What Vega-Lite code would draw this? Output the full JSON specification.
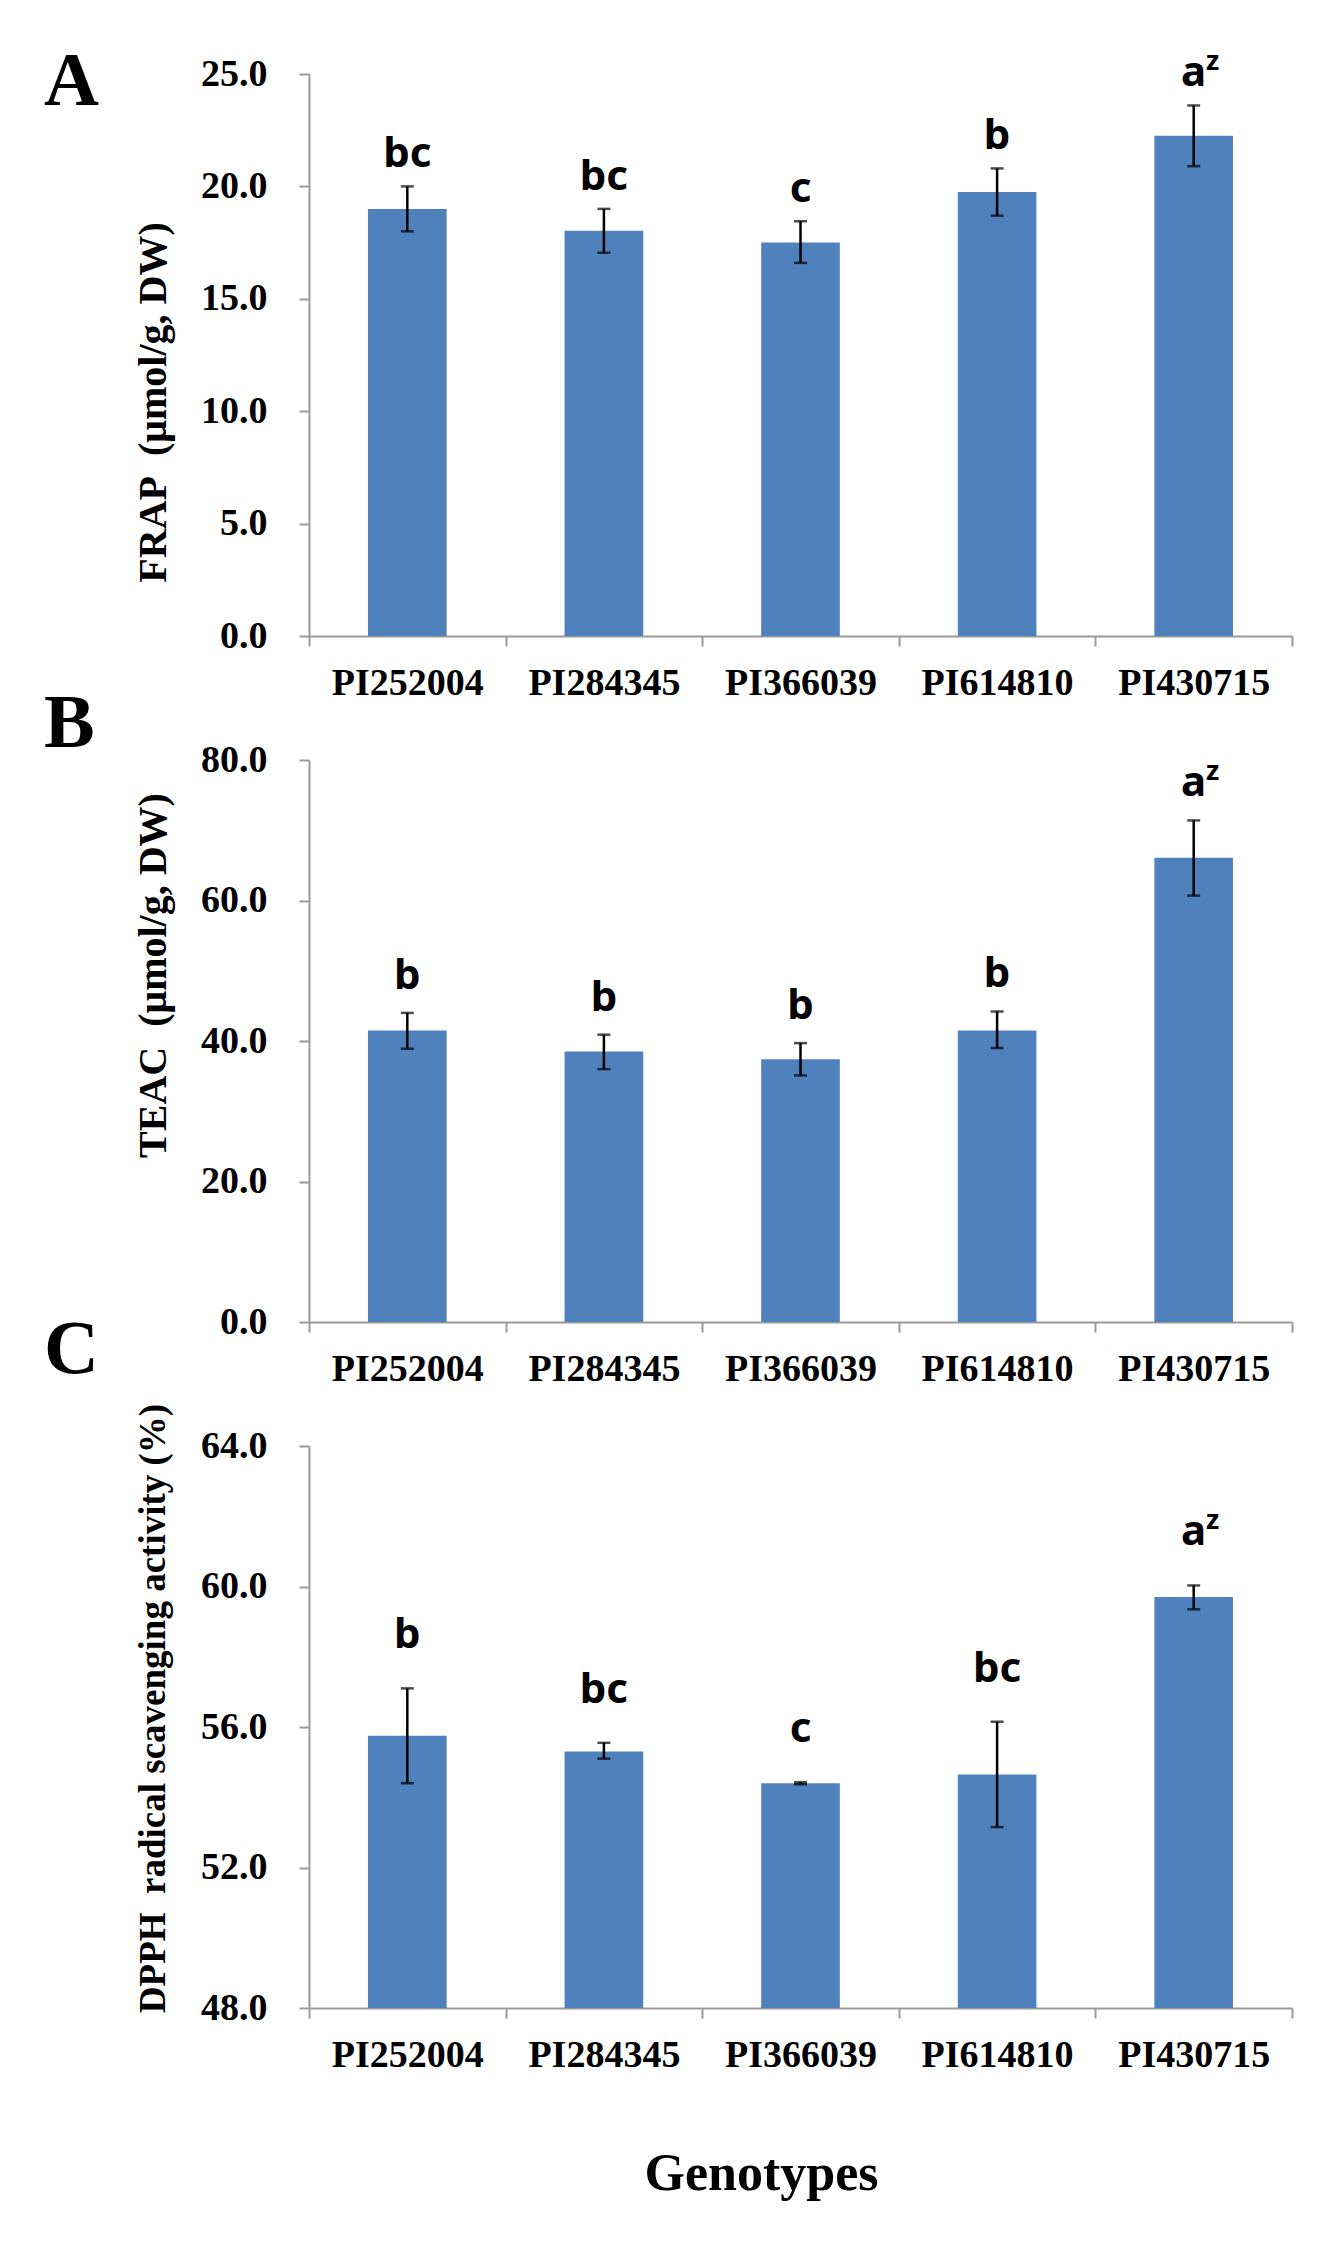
{
  "$schema": "https://vega.github.io/schema/vega-lite/v6.json",
  "background": "white",
  "padding": {"left": 44, "top": 44, "right": 10, "bottom": 10},
  "bounds": "flush",
  "spacing": 124,
  "datasets": {
    "frap": [
      {"genotype": "PI252004", "mean": 19.0, "low": 18.0, "high": 20.0, "letter": "bc", "sup": ""},
      {"genotype": "PI284345", "mean": 18.03, "low": 17.05, "high": 19.0, "letter": "bc", "sup": ""},
      {"genotype": "PI366039", "mean": 17.5, "low": 16.6, "high": 18.45, "letter": "c", "sup": ""},
      {"genotype": "PI614810", "mean": 19.75, "low": 18.7, "high": 20.8, "letter": "b", "sup": ""},
      {"genotype": "PI430715", "mean": 22.25, "low": 20.9, "high": 23.6, "letter": "a", "sup": "z"}
    ],
    "teac": [
      {"genotype": "PI252004", "mean": 41.5, "low": 38.9, "high": 44.0, "letter": "b", "sup": ""},
      {"genotype": "PI284345", "mean": 38.5, "low": 36.0, "high": 40.9, "letter": "b", "sup": ""},
      {"genotype": "PI366039", "mean": 37.4, "low": 35.1, "high": 39.7, "letter": "b", "sup": ""},
      {"genotype": "PI614810", "mean": 41.5, "low": 39.0, "high": 44.2, "letter": "b", "sup": ""},
      {"genotype": "PI430715", "mean": 66.1, "low": 60.7, "high": 71.4, "letter": "a", "sup": "z"}
    ],
    "dpph": [
      {"genotype": "PI252004", "mean": 55.75, "low": 54.4, "high": 57.1, "letter": "b", "sup": ""},
      {"genotype": "PI284345", "mean": 55.3, "low": 55.1, "high": 55.55, "letter": "bc", "sup": ""},
      {"genotype": "PI366039", "mean": 54.4, "low": 54.37, "high": 54.43, "letter": "c", "sup": ""},
      {"genotype": "PI614810", "mean": 54.65, "low": 53.15, "high": 56.15, "letter": "bc", "sup": ""},
      {"genotype": "PI430715", "mean": 59.7, "low": 59.35, "high": 60.03, "letter": "a", "sup": "z"}
    ]
  },
  "config": {
    "view": {"stroke": null},
    "axis": {
      "grid": false,
      "domainColor": "#9a9a9a",
      "domainWidth": 2,
      "tickColor": "#9a9a9a",
      "tickWidth": 2,
      "tickSize": 10,
      "labelFont": "Liberation Serif",
      "labelFontSize": 38,
      "labelFontWeight": "bold",
      "labelColor": "black",
      "titleFont": "Liberation Serif",
      "titleFontWeight": "bold",
      "titleColor": "black"
    },
    "title": {
      "font": "Liberation Serif",
      "fontSize": 76,
      "fontWeight": "bold",
      "color": "black",
      "anchor": "start",
      "frame": "group",
      "baseline": "alphabetic",
      "offset": 0,
      "dx": -265
    }
  },
  "vconcat": [
    {
      "title": {"text": "A", "dy": 77},
      "width": 983,
      "height": 562,
      "data": {"name": "frap"},
      "encoding": {
        "x": {
          "field": "genotype", "type": "nominal", "sort": null,
          "scale": {"paddingInner": 0, "paddingOuter": 0},
          "axis": {"title": null, "labelAngle": 0, "tickBand": "extent", "labelPadding": 18}
        }
      },
      "layer": [
        {
          "mark": {"type": "bar", "color": "#4F81BD", "width": {"band": 0.4}},
          "encoding": {
            "y": {
              "field": "mean", "type": "quantitative", "title": "FRAP\u00a0\u00a0(μmol/g, DW)",
              "scale": {"domain": [0, 25], "nice": false},
              "axis": {"values": [0, 5, 10, 15, 20, 25], "format": ".1f", "labelPadding": 32,
                       "titleFontSize": 40, "titleX": -156, "titleY": 328, "titleAngle": -90,
                       "titleAlign": "center", "titleBaseline": "middle"}
            }
          }
        },
        {
          "mark": {"type": "errorbar", "ticks": {"size": 13, "thickness": 2.5, "color": "black"}, "rule": {"strokeWidth": 2.5, "color": "black"}},
          "encoding": {
            "y": {"field": "low", "type": "quantitative", "title": "FRAP\u00a0\u00a0(μmol/g, DW)"},
            "y2": {"field": "high"}
          }
        },
        {
          "mark": {"type": "text", "font": "Noto Sans", "fontSize": 42, "fontWeight": "bold", "color": "black", "baseline": "alphabetic", "dy": -19},
          "encoding": {
            "y": {"field": "high", "type": "quantitative", "title": "FRAP\u00a0\u00a0(μmol/g, DW)"},
            "text": {"field": "letter"}
          }
        },
        {
          "mark": {"type": "text", "font": "Noto Sans", "fontSize": 27, "fontWeight": "bold", "color": "black", "baseline": "alphabetic", "dx": 19, "dy": -35},
          "encoding": {
            "y": {"field": "high", "type": "quantitative", "title": "FRAP\u00a0\u00a0(μmol/g, DW)"},
            "text": {"field": "sup"}
          }
        }
      ]
    },
    {
      "title": {"text": "B", "dy": 26},
      "width": 983,
      "height": 562,
      "data": {"name": "teac"},
      "encoding": {
        "x": {
          "field": "genotype", "type": "nominal", "sort": null,
          "scale": {"paddingInner": 0, "paddingOuter": 0},
          "axis": {"title": null, "labelAngle": 0, "tickBand": "extent", "labelPadding": 18}
        }
      },
      "layer": [
        {
          "mark": {"type": "bar", "color": "#4F81BD", "width": {"band": 0.4}},
          "encoding": {
            "y": {
              "field": "mean", "type": "quantitative", "title": "TEAC\u00a0\u00a0(μmol/g, DW)",
              "scale": {"domain": [0, 80], "nice": false},
              "axis": {"values": [0, 20, 40, 60, 80], "format": ".1f", "labelPadding": 32,
                       "titleFontSize": 40, "titleX": -156, "titleY": 215, "titleAngle": -90,
                       "titleAlign": "center", "titleBaseline": "middle"}
            }
          }
        },
        {
          "mark": {"type": "errorbar", "ticks": {"size": 13, "thickness": 2.5, "color": "black"}, "rule": {"strokeWidth": 2.5, "color": "black"}},
          "encoding": {
            "y": {"field": "low", "type": "quantitative", "title": "TEAC\u00a0\u00a0(μmol/g, DW)"},
            "y2": {"field": "high"}
          }
        },
        {
          "mark": {"type": "text", "font": "Noto Sans", "fontSize": 42, "fontWeight": "bold", "color": "black", "baseline": "alphabetic", "dy": -24},
          "encoding": {
            "y": {"field": "high", "type": "quantitative", "title": "TEAC\u00a0\u00a0(μmol/g, DW)"},
            "text": {"field": "letter"}
          }
        },
        {
          "mark": {"type": "text", "font": "Noto Sans", "fontSize": 27, "fontWeight": "bold", "color": "black", "baseline": "alphabetic", "dx": 19, "dy": -40},
          "encoding": {
            "y": {"field": "high", "type": "quantitative", "title": "TEAC\u00a0\u00a0(μmol/g, DW)"},
            "text": {"field": "sup"}
          }
        }
      ]
    },
    {
      "title": {"text": "C", "dy": -10},
      "width": 983,
      "height": 562,
      "data": {"name": "dpph"},
      "encoding": {
        "x": {
          "field": "genotype", "type": "nominal", "sort": null,
          "scale": {"paddingInner": 0, "paddingOuter": 0},
          "axis": {"title": "Genotypes", "labelAngle": 0, "tickBand": "extent", "labelPadding": 18,
                   "titleFontSize": 52, "titleX": 452, "titleY": 181, "titleAlign": "center", "titleBaseline": "alphabetic"}
        }
      },
      "layer": [
        {
          "mark": {"type": "bar", "color": "#4F81BD", "width": {"band": 0.4}},
          "encoding": {
            "y": {
              "field": "mean", "type": "quantitative", "title": "DPPH\u00a0\u00a0radical scavenging activity (%)",
              "scale": {"domain": [48, 64], "nice": false, "zero": false},
              "axis": {"values": [48, 52, 56, 60, 64], "format": ".1f", "labelPadding": 32,
                       "titleFontSize": 37, "titleX": -156, "titleY": 262, "titleAngle": -90,
                       "titleAlign": "center", "titleBaseline": "middle"}
            },
            "y2": {"datum": 48}
          }
        },
        {
          "mark": {"type": "errorbar", "ticks": {"size": 13, "thickness": 2.5, "color": "black"}, "rule": {"strokeWidth": 2.5, "color": "black"}},
          "encoding": {
            "y": {"field": "low", "type": "quantitative", "title": "DPPH\u00a0\u00a0radical scavenging activity (%)"},
            "y2": {"field": "high"}
          }
        },
        {
          "mark": {"type": "text", "font": "Noto Sans", "fontSize": 42, "fontWeight": "bold", "color": "black", "baseline": "alphabetic", "dy": -40},
          "encoding": {
            "y": {"field": "high", "type": "quantitative", "title": "DPPH\u00a0\u00a0radical scavenging activity (%)"},
            "text": {"field": "letter"}
          }
        },
        {
          "mark": {"type": "text", "font": "Noto Sans", "fontSize": 27, "fontWeight": "bold", "color": "black", "baseline": "alphabetic", "dx": 19, "dy": -56},
          "encoding": {
            "y": {"field": "high", "type": "quantitative", "title": "DPPH\u00a0\u00a0radical scavenging activity (%)"},
            "text": {"field": "sup"}
          }
        }
      ]
    }
  ]
}
